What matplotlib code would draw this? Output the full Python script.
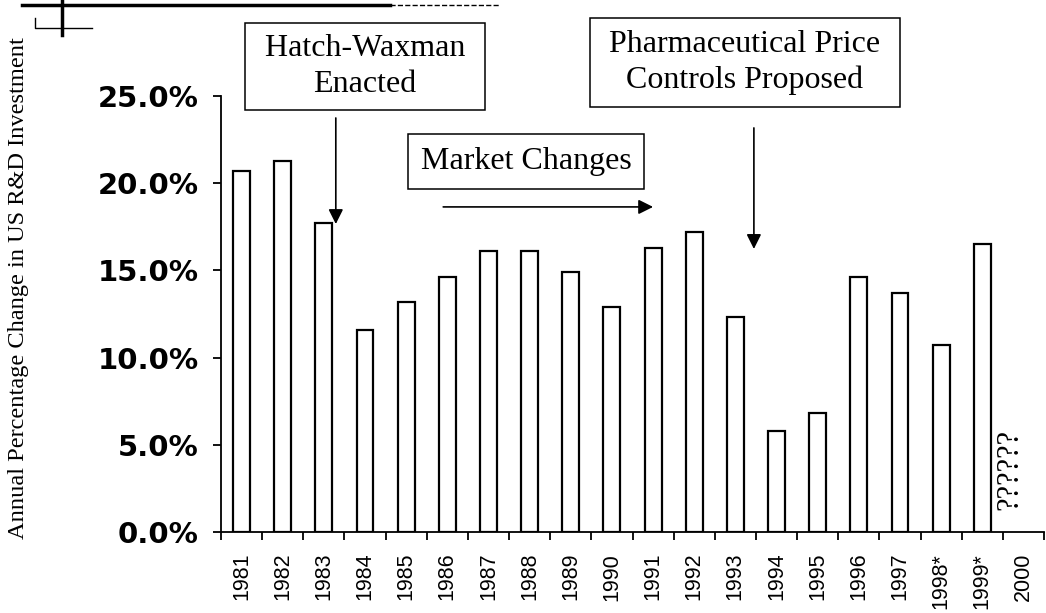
import numpy as np
import matplotlib
matplotlib.use("Agg")
import matplotlib.pyplot as plt
from matplotlib.lines import Line2D

# data
years = ["1981", "1982", "1983", "1984", "1985", "1986", "1987", "1988", "1989", "1990",
         "1991", "1992", "1993", "1994", "1995", "1996", "1997", "1998*", "1999*", "2000"]
pct_change = [20.7, 21.3, 17.7, 11.6, 13.2, 14.6, 16.1, 16.1, 14.9, 12.9,
              16.3, 17.2, 12.3, 5.8, 6.8, 14.6, 13.7, 10.7, 16.5]
yticks = [0.0, 5.0, 10.0, 15.0, 20.0, 25.0]

W, H = 1046, 613
fig = plt.figure(figsize=(W / 100, H / 100), dpi=100)
ax = fig.add_axes([221 / W, 1 - 532 / H, (1044 - 221) / W, (532 - 96) / H])

x = np.arange(len(years))
vals = np.array(pct_change) / 100
ax.bar(x[:len(vals)], vals, width=0.41, color="white", edgecolor="black", linewidth=1.6)

ax.set_xlim(-0.5, len(years) - 0.5)
ax.set_ylim(0, 0.25)
for s in ["top", "right"]:
    ax.spines[s].set_visible(False)
ax.spines["left"].set_linewidth(1.3)
ax.spines["bottom"].set_linewidth(1.3)

# y axis
ax.set_yticks([v / 100 for v in yticks])
ax.set_yticklabels(["%.1f%%" % v for v in yticks], family="DejaVu Sans",
                   fontweight="bold", fontsize=21)
ax.tick_params(axis="y", length=6, width=1.3, pad=10)

# x axis: labels at centres, tick marks on category boundaries
ax.set_xticks(x)
ax.set_xticklabels(years, rotation=90, family="Liberation Sans", fontsize=15.5)
ax.tick_params(axis="x", which="major", length=0, pad=15)
ax.set_xticks(np.arange(len(years) + 1) - 0.5, minor=True)
ax.tick_params(axis="x", which="minor", length=6, width=1.3)

fig.text(19 / W, 1 - 288 / H, "Annual Percentage Change in US R&D Investment",
         rotation=90, ha="center", va="center", family="Liberation Serif", fontsize=17.6)

# annotations
arr = dict(arrowstyle="-|>", mutation_scale=22, lw=1.2, color="black", shrinkA=0, shrinkB=0)
tfont = dict(family="Liberation Serif", fontsize=23, ha="center", va="center",
             linespacing=1.3, clip_on=False)

ax.text(3.0, 0.267, " Hatch-Waxman \nEnacted",
        bbox=dict(boxstyle="square,pad=0.36", fc="white", ec="black", lw=1.1), **tfont)
ax.text(12.23, 0.2692, " Pharmaceutical Price \nControls Proposed",
        bbox=dict(boxstyle="square,pad=0.36", fc="white", ec="black", lw=1.1), **tfont)
ax.text(6.92, 0.2124, "Market Changes",
        bbox=dict(boxstyle="square,pad=0.4", fc="white", ec="black", lw=1.1), **tfont)

ax.annotate("", xy=(2.29, 0.1766), xytext=(2.29, 0.2374), arrowprops=arr, annotation_clip=False)
ax.annotate("", xy=(10.0, 0.1864), xytext=(4.9, 0.1864), arrowprops=arr, annotation_clip=False)
ax.annotate("", xy=(12.45, 0.1623), xytext=(12.45, 0.2317), arrowprops=arr, annotation_clip=False)

# question marks in the 2000 slot
ax.text(18.67, 0.0356, "??????", rotation=90, ha="center", va="center",
        family="Liberation Serif", fontsize=22)

# scan marks in the top left corner
fig.add_artist(Line2D([22 / W, 390 / W], [1 - 5 / H, 1 - 5 / H], color="black", lw=2.5))
fig.add_artist(Line2D([390 / W, 500 / W], [1 - 5 / H, 1 - 5 / H], color="black", lw=1, ls="--"))
fig.add_artist(Line2D([62 / W, 62 / W], [1, 1 - 35 / H], color="black", lw=2.5))
fig.add_artist(Line2D([35 / W, 35 / W, 92 / W], [1 - 18 / H, 1 - 28 / H, 1 - 28 / H],
                      color="black", lw=1))

fig.savefig("out.png", dpi=100)
